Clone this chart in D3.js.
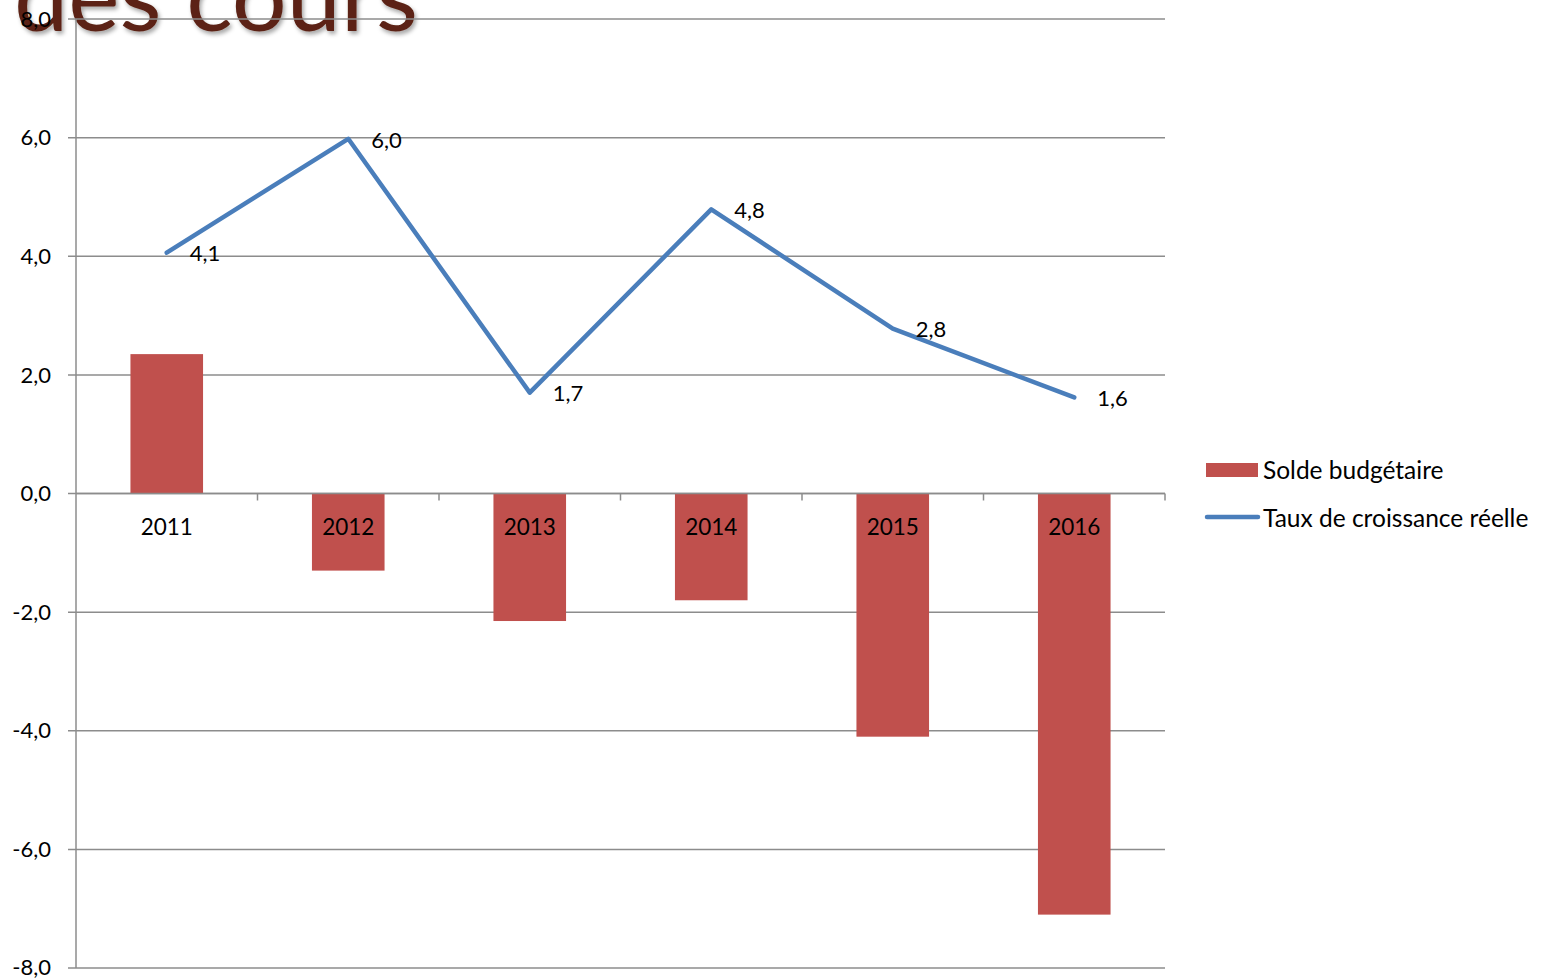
<!DOCTYPE html>
<html><head><meta charset="utf-8">
<script src="https://cdn.jsdelivr.net/npm/d3@7"></script>
<style>body{margin:0;background:#fff;}svg{display:block;font-family:Lato,"Open Sans",sans-serif;}</style>
</head><body>
<svg id="c" width="1552" height="979"></svg>
<script>
const categories = ["2011","2012","2013","2014","2015","2016"];
const soldeBudgetaire = [2.35, -1.3, -2.15, -1.8, -4.1, -7.1];
const tauxCroissance = [4.06, 5.98, 1.70, 4.79, 2.78, 1.62];
const yTicks = [-8,-6,-4,-2,0,2,4,6,8];
const seriesNames = ["Solde budgétaire","Taux de croissance réelle"];
const titleText = "des cours";

(function(){
const svg = d3.select("#c");
const pLeft = 76, pRight = 1165, pTop = 19, pBottom = 968;
const x = d3.scaleBand().domain(categories).range([pLeft, pRight]);
const y = d3.scaleLinear().domain([-8, 8]).range([pBottom, pTop]);
const fmt = v => d3.format(".1f")(v).replace(".", ",").replace("\u2212", "-");

const defs = svg.append("defs");
const f = defs.append("filter").attr("id","sh").attr("x","-10%").attr("y","-20%").attr("width","130%").attr("height","160%");
f.append("feDropShadow").attr("dx",2).attr("dy",3).attr("stdDeviation",2).attr("flood-color","#000").attr("flood-opacity",0.35);

svg.append("text").attr("x", 14).attr("y", 31).attr("font-size", 97)
  .attr("fill", "#5b2416").attr("filter","url(#sh)").text(titleText);

svg.append("g").selectAll("line").data(yTicks).join("line")
  .attr("x1", pLeft - 8).attr("x2", pRight).attr("y1", d => y(d)).attr("y2", d => y(d))
  .attr("stroke", "#8c8c8c").attr("stroke-width", 1.5);

svg.append("g").selectAll("text").data(yTicks).join("text")
  .attr("x", 51).attr("y", d => y(d) - (d === -8 ? 1 : 0)).attr("dy", "0.35em").attr("text-anchor", "end")
  .attr("font-size", 22).attr("fill", "#000").text(d => fmt(d));

const bw = x.bandwidth() * 0.4;
svg.append("g").selectAll("rect").data(categories).join("rect")
  .attr("x", d => x(d) + x.bandwidth()/2 - bw/2)
  .attr("width", bw)
  .attr("y", (d,i) => y(Math.max(0, soldeBudgetaire[i])))
  .attr("height", (d,i) => Math.abs(y(soldeBudgetaire[i]) - y(0)))
  .attr("fill", "#c0504d");

svg.append("line").attr("x1", pLeft).attr("x2", pLeft).attr("y1", pTop).attr("y2", pBottom)
  .attr("stroke", "#8c8c8c").attr("stroke-width", 1.5);
svg.append("line").attr("x1", pLeft).attr("x2", pRight).attr("y1", y(0)).attr("y2", y(0))
  .attr("stroke", "#8c8c8c").attr("stroke-width", 1.5);
svg.append("g").selectAll("line").data(categories).join("line")
  .attr("x1", d => x(d) + x.bandwidth()).attr("x2", d => x(d) + x.bandwidth())
  .attr("y1", y(0)).attr("y2", y(0) + 7).attr("stroke", "#8c8c8c").attr("stroke-width", 1.5);

svg.append("g").selectAll("text").data(categories).join("text")
  .attr("x", d => x(d) + x.bandwidth()/2).attr("y", y(0) + 34).attr("dy", "0.35em")
  .attr("text-anchor", "middle").attr("font-size", 22.5).attr("fill", "#000").text(d => d);

const line = d3.line().x((d,i) => x(categories[i]) + x.bandwidth()/2).y(d => y(d));
svg.append("path").datum(tauxCroissance).attr("d", line).attr("fill", "none")
  .attr("stroke", "#4a7ebb").attr("stroke-width", 4.5).attr("stroke-linejoin","round").attr("stroke-linecap","round");

svg.append("g").selectAll("text").data(tauxCroissance).join("text")
  .attr("x", (d,i) => x(categories[i]) + x.bandwidth()/2 + 23).attr("y", d => y(d) + 1).attr("dy", "0.35em")
  .attr("font-size", 22).attr("fill", "#000").text(d => fmt(d));

const lg = svg.append("g");
lg.append("rect").attr("x", 1206).attr("y", 463).attr("width", 52).attr("height", 14).attr("fill", "#c0504d");
lg.append("text").attr("x", 1263).attr("y", 470).attr("dy","0.35em").attr("font-size", 24.5).text(seriesNames[0]);
lg.append("line").attr("x1", 1207).attr("x2", 1258).attr("y1", 517).attr("y2", 517)
  .attr("stroke", "#4a7ebb").attr("stroke-width", 4.5).attr("stroke-linecap","round");
lg.append("text").attr("x", 1263).attr("y", 518).attr("dy","0.35em").attr("font-size", 24.5).text(seriesNames[1]);
})();
</script>
</body></html>
